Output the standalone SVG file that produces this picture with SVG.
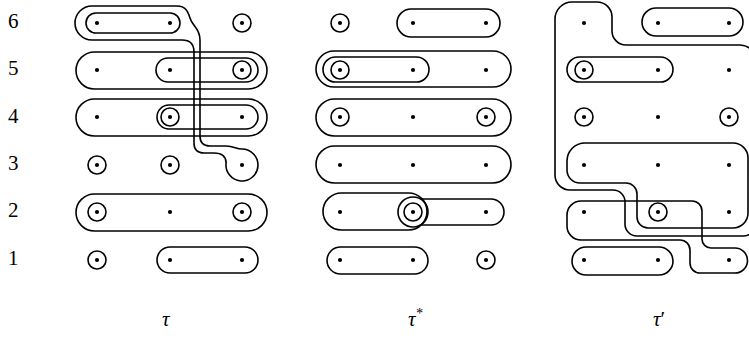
<svg xmlns="http://www.w3.org/2000/svg" width="749" height="339" viewBox="0 0 749 339">
<style>
.s{fill:none;stroke:#000;stroke-width:1.6}
.d{fill:#000}
.num{font-family:"Liberation Serif","Times New Roman",serif;font-size:21px;fill:#000}
.lab{font-family:"Liberation Serif","Times New Roman",serif;font-style:italic;font-size:21px;fill:#000}
</style>
<defs>
<circle id="dot" r="2.1" class="d"/>
<circle id="ring" r="9" class="s"/>
</defs>
<rect width="749" height="339" fill="#fff"/>
<g id="row-labels">
<text class="num" x="8" y="28">6</text>
<text class="num" x="8" y="75">5</text>
<text class="num" x="8" y="123">4</text>
<text class="num" x="8" y="170">3</text>
<text class="num" x="8" y="217">2</text>
<text class="num" x="8" y="265">1</text>
</g>
<g id="panel-tau">
<g id="tau-dots">
<use href="#dot" x="97" y="23"/><use href="#dot" x="170" y="23"/><use href="#dot" x="242" y="23"/>
<use href="#dot" x="97" y="70"/><use href="#dot" x="170" y="70"/><use href="#dot" x="242" y="70"/>
<use href="#dot" x="97" y="117"/><use href="#dot" x="170" y="117"/><use href="#dot" x="242" y="117"/>
<use href="#dot" x="97" y="165"/><use href="#dot" x="170" y="165"/><use href="#dot" x="242" y="165"/>
<use href="#dot" x="97" y="212"/><use href="#dot" x="170" y="212"/><use href="#dot" x="242" y="212"/>
<use href="#dot" x="97" y="260"/><use href="#dot" x="170" y="260"/><use href="#dot" x="242" y="260"/>
</g>
<g id="tau-rings">
<use href="#ring" x="242" y="23"/><use href="#ring" x="242" y="70"/><use href="#ring" x="170" y="117"/>
<use href="#ring" x="97" y="165"/><use href="#ring" x="170" y="165"/>
<use href="#ring" x="97" y="212"/><use href="#ring" x="242" y="212"/><use href="#ring" x="97" y="260"/>
</g>
<g id="tau-blocks">
<rect class="s" x="86" y="13" width="94" height="20" rx="10"/>
<path class="s" d="M 92,6 L 177,6 C 186,6 188,12 190,18 C 192,26 200,28 200,40 L 200,136 Q 200,146 210,146 L 226,146 C 234,146 236,149 242,149 A 16 16 0 1 1 226.1,163 C 226,157 222,153 214,153 L 204,153 Q 194,153 194,143 L 194,52 Q 194,40 182,40 L 92,40 A 17 17 0 0 1 92,6 Z"/>
<rect class="s" x="76" y="52" width="191" height="37" rx="18.5"/>
<rect class="s" x="156" y="58" width="102" height="24" rx="12"/>
<rect class="s" x="76" y="99" width="191" height="37" rx="18.5"/>
<rect class="s" x="157" y="105" width="101" height="24" rx="12"/>
<rect class="s" x="76" y="194" width="191" height="37" rx="18.5"/>
<rect class="s" x="157" y="247" width="101" height="26" rx="13"/>
</g>
</g>
<g id="panel-tau-star">
<g id="star-dots">
<use href="#dot" x="340" y="23"/><use href="#dot" x="413" y="23"/><use href="#dot" x="486" y="23"/>
<use href="#dot" x="340" y="70"/><use href="#dot" x="413" y="70"/><use href="#dot" x="486" y="70"/>
<use href="#dot" x="340" y="117"/><use href="#dot" x="413" y="117"/><use href="#dot" x="486" y="117"/>
<use href="#dot" x="340" y="165"/><use href="#dot" x="413" y="165"/><use href="#dot" x="486" y="165"/>
<use href="#dot" x="340" y="212"/><use href="#dot" x="413" y="212"/><use href="#dot" x="486" y="212"/>
<use href="#dot" x="340" y="260"/><use href="#dot" x="413" y="260"/><use href="#dot" x="486" y="260"/>
</g>
<g id="star-rings">
<use href="#ring" x="340" y="23"/><use href="#ring" x="340" y="70"/>
<use href="#ring" x="340" y="117"/><use href="#ring" x="486" y="117"/>
<use href="#ring" x="413" y="212"/><use href="#ring" x="486" y="260"/>
<circle class="s" cx="413" cy="212" r="15"/>
</g>
<g id="star-blocks">
<rect class="s" x="397" y="9" width="103" height="28" rx="14"/>
<rect class="s" x="316" y="51" width="195" height="36" rx="18"/>
<rect class="s" x="323" y="57" width="106" height="25" rx="12.5"/>
<rect class="s" x="316" y="99" width="195" height="37" rx="18.5"/>
<rect class="s" x="316" y="146" width="195" height="37" rx="18.5"/>
<rect class="s" x="323" y="193" width="104" height="37" rx="18.5"/>
<path class="s" d="M 420.5,199 L 491,199 A 13 13 0 0 1 491,225 L 420.5,225"/>
<rect class="s" x="327" y="247" width="101" height="27" rx="13.5"/>
</g>
</g>
<g id="panel-tau-prime">
<g id="prime-dots">
<use href="#dot" x="584" y="23"/><use href="#dot" x="658" y="23"/><use href="#dot" x="729" y="23"/>
<use href="#dot" x="584" y="70"/><use href="#dot" x="658" y="70"/><use href="#dot" x="729" y="70"/>
<use href="#dot" x="584" y="117"/><use href="#dot" x="658" y="117"/><use href="#dot" x="729" y="117"/>
<use href="#dot" x="584" y="165"/><use href="#dot" x="658" y="165"/><use href="#dot" x="729" y="165"/>
<use href="#dot" x="584" y="212"/><use href="#dot" x="658" y="212"/><use href="#dot" x="729" y="212"/>
<use href="#dot" x="584" y="260"/><use href="#dot" x="658" y="260"/><use href="#dot" x="729" y="260"/>
</g>
<g id="prime-rings">
<use href="#ring" x="584" y="70"/><use href="#ring" x="584" y="117"/><use href="#ring" x="729" y="117"/>
<use href="#ring" x="658" y="212"/>
</g>
<g id="prime-blocks">
<rect class="s" x="642" y="8" width="101" height="28" rx="14"/>
<rect class="s" x="567" y="57" width="106" height="25" rx="12.5"/>
<rect class="s" x="572" y="247" width="101" height="28" rx="14"/>
<path class="s" d="M 555,19 A 17 17 0 0 1 572,2 L 597,2 A 15 15 0 0 1 612,17 L 612,31 A 14 14 0 0 0 626,45 L 740,45 A 16 16 0 0 1 756,61 L 756,223 A 13 13 0 0 1 743,236 L 637,236 A 12 12 0 0 1 625,224 L 625,202 A 12 12 0 0 0 613,190 L 570,190 A 15 15 0 0 1 555,175 Z"/>
<path class="s" d="M 567,161 A 18 18 0 0 1 585,143 L 733,143 A 15 15 0 0 1 748,158 L 748,213 A 15 15 0 0 1 733,228 L 648,228 A 11 11 0 0 1 637,217 L 637,194 A 11 11 0 0 0 626,183 L 580,183 A 13 13 0 0 1 567,170 Z"/>
<path class="s" d="M 567,215 A 14 14 0 0 1 581,201 L 692,201 A 10 10 0 0 1 702,211 L 702,239 A 9 9 0 0 0 711,248 L 735,248 A 12.5 12.5 0 0 1 735,273 L 700,273 A 10 10 0 0 1 690,263 L 690,250 A 10 10 0 0 0 680,240 L 581,240 A 14 14 0 0 1 567,226 Z"/>
</g>
</g>
<g id="captions">
<text class="lab" x="162" y="326">τ</text>
<text class="lab" x="408" y="326">τ<tspan dy="-8" font-size="14">*</tspan></text>
<text class="lab" x="653" y="326">τ<tspan font-style="normal">′</tspan></text>
</g>
</svg>
